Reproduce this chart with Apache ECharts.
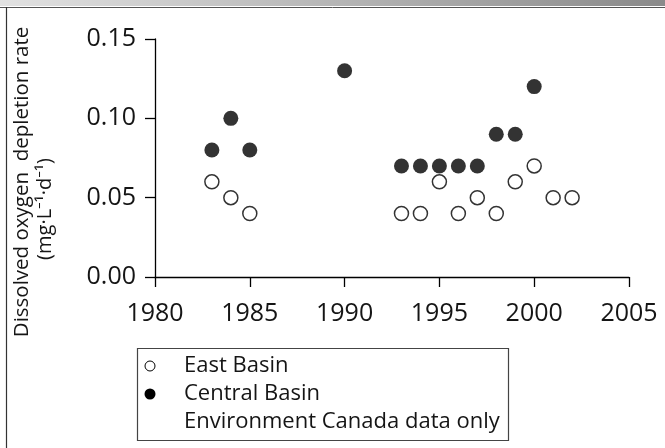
<!DOCTYPE html>
<html>
<head>
<meta charset="utf-8">
<script src="https://cdn.jsdelivr.net/npm/echarts@6/dist/echarts.min.js"></script>
<style>
  html, body { margin: 0; padding: 0; background: #fff; }
  #chart { width: 665px; height: 448px; }
</style>
</head>
<body>
<div id="chart"></div>
<script>
// Hypolimnetic oxygen depletion rates by basin, by year
const eastYears = [1983, 1984, 1985, 1993, 1994, 1995, 1996, 1997, 1998, 1999, 2000, 2001, 2002];
const eastRates = [0.06, 0.05, 0.04, 0.04, 0.04, 0.06, 0.04, 0.05, 0.04, 0.06, 0.07, 0.05, 0.05];
const centralYears = [1983, 1984, 1985, 1990, 1993, 1994, 1995, 1996, 1997, 1998, 1999, 2000];
const centralRates = [0.08, 0.10, 0.08, 0.13, 0.07, 0.07, 0.07, 0.07, 0.07, 0.09, 0.09, 0.12];
const legendLabels = ['East Basin', 'Central Basin', 'Environment Canada data only'];
const yAxisTitle = ['Dissolved oxygen  depletion rate', '(mg\u00b7L\u207b\u00b9\u00b7d\u207b\u00b9)'];

const FONT = '"Open Sans", "Noto Sans", sans-serif';
const TEXT = '#151515';
const pairs = (xs, ys) => xs.map((x, i) => [x, ys[i]]);

const chart = echarts.init(document.getElementById('chart'), null, { renderer: 'canvas' });

const axisCommon = {
  axisLine: { show: true, lineStyle: { color: '#000', width: 1.3 } },
  axisTick: { show: true, inside: false, length: 10, lineStyle: { color: '#000', width: 1.3 } },
  splitLine: { show: false },
  axisLabel: { color: TEXT, fontFamily: FONT, fontSize: 25 }
};

chart.setOption({
  animation: false,
  backgroundColor: '#fff',
  grid: { left: 155, right: 36, top: 39, bottom: 171, containLabel: false },
  xAxis: Object.assign({}, axisCommon, {
    type: 'value', min: 1980, max: 2005, interval: 5,
    axisLabel: Object.assign({}, axisCommon.axisLabel, {
      margin: 24,
      formatter: v => String(v)
    })
  }),
  yAxis: Object.assign({}, axisCommon, {
    type: 'value', min: 0, max: 0.15, interval: 0.05,
    axisLabel: Object.assign({}, axisCommon.axisLabel, {
      margin: 19,
      formatter: v => v.toFixed(2)
    })
  }),
  series: [
    {
      name: legendLabels[0], type: 'scatter', data: pairs(eastYears, eastRates),
      symbol: 'circle', symbolSize: 14, z: 3,
      itemStyle: { color: '#fff', borderColor: '#000', borderWidth: 1.5 }
    },
    {
      name: legendLabels[1], type: 'scatter', data: pairs(centralYears, centralRates),
      symbol: 'circle', symbolSize: 15, z: 2,
      itemStyle: { color: '#000' }
    }
  ],
  graphic: [
    // page frame: shaded top strip and rules
    {
      type: 'rect', left: 0, top: 0, silent: true,
      shape: { width: 665, height: 6 },
      style: {
        fill: new echarts.graphic.LinearGradient(0, 0, 1, 0, [
          { offset: 0, color: '#e2e2e2' },
          { offset: 1, color: '#8a8a8a' }
        ])
      }
    },
    { type: 'line', silent: true, shape: { x1: 0, y1: 7.5, x2: 665, y2: 7.5 }, style: { stroke: '#555', lineWidth: 1 } },
    { type: 'line', silent: true, shape: { x1: 6.5, y1: 7, x2: 6.5, y2: 448 }, style: { stroke: '#333', lineWidth: 1.2 } },

    // y-axis title, two lines
    {
      type: 'text', x: 22, y: 182, rotation: Math.PI / 2, silent: true,
      style: { text: yAxisTitle[0], font: '20.5px ' + FONT, fill: TEXT, align: 'center', verticalAlign: 'middle' }
    },
    {
      type: 'text', x: 45, y: 209, rotation: Math.PI / 2, silent: true,
      style: { text: yAxisTitle[1], font: '20px ' + FONT, fill: TEXT, align: 'center', verticalAlign: 'middle' }
    },

    // legend box
    {
      type: 'rect', silent: true,
      shape: { x: 137.5, y: 348.5, width: 371, height: 92 },
      style: { fill: '#fff', stroke: '#444', lineWidth: 1.2 }
    },
    { type: 'circle', silent: true, shape: { cx: 150, cy: 366, r: 5 }, style: { fill: '#fff', stroke: '#000', lineWidth: 1 } },
    { type: 'circle', silent: true, shape: { cx: 150, cy: 394, r: 5.5 }, style: { fill: '#000' } },
    {
      type: 'text', x: 184, y: 366, silent: true,
      style: { text: legendLabels[0], font: '22px ' + FONT, fill: TEXT, verticalAlign: 'middle' }
    },
    {
      type: 'text', x: 184, y: 394, silent: true,
      style: { text: legendLabels[1], font: '22px ' + FONT, fill: TEXT, verticalAlign: 'middle' }
    },
    {
      type: 'text', x: 184, y: 422, silent: true,
      style: { text: legendLabels[2], font: '22px ' + FONT, fill: TEXT, verticalAlign: 'middle' }
    }
  ]
});
</script>
</body>
</html>
